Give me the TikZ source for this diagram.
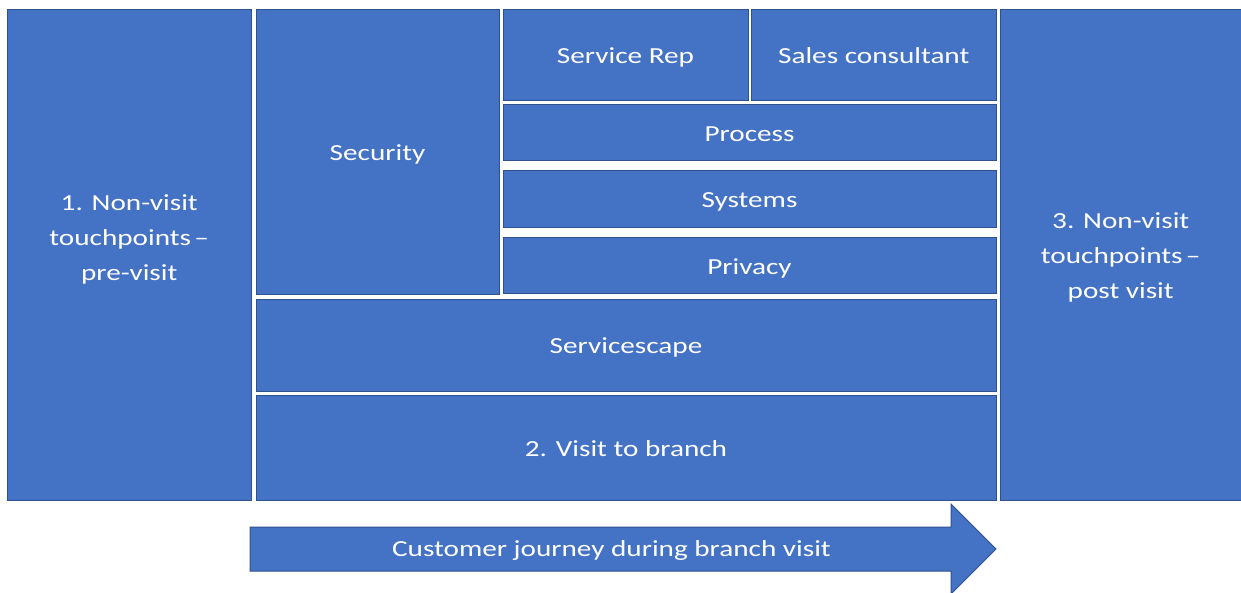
\documentclass[tikz,border=0pt]{standalone}
\usepackage{fontspec}
\setmainfont{Carlito}[FakeStretch=1.27]
\definecolor{boxfill}{HTML}{4472C4}
\definecolor{boxline}{HTML}{2F528F}
\begin{document}
\begin{tikzpicture}[x=1pt,y=-1pt,
  panel/.style={draw=boxline, fill=boxfill, line width=1pt},
  label/.style={text=white, align=center, inner sep=0pt, anchor=base,
    font=\fontsize{23}{35}\selectfont}]
\useasboundingbox (0,0) rectangle (1241,593);
% panel: x1, y1, x2, y2, name, baseline of last text line, text
\newcommand{\panelbox}[7]{%
  \draw[panel] (#1,#2) rectangle (#3,#4);
  \node[label] (#5) at ({(#1+#3)/2},#6) {#7};}
\panelbox{7.5}{9.5}{251}{500}{pre}{280.5}{1. Non-visit\\touchpoints\hspace{0.15em}–\\pre-visit}
\panelbox{256}{9.5}{499}{295}{sec}{160.5}{Security}
\panelbox{503}{9.5}{748}{101}{rep}{63.5}{Service Rep}
\panelbox{751.5}{9.5}{996}{101}{sales}{63.5}{Sales consultant}
\panelbox{503}{104.5}{996}{161}{proc}{141.5}{Process}
\panelbox{503}{170.5}{996}{228}{sys}{207.5}{Systems}
\panelbox{503}{237.5}{996}{294}{priv}{274.5}{Privacy}
\panelbox{256}{299.5}{996}{391}{scape}{353.5}{Servicescape}
\panelbox{256}{395.5}{996}{500}{visit}{456.5}{2. Visit to branch}
\panelbox{1000}{9.5}{1241.5}{500}{post}{298.5}{3. Non-visit\\touchpoints\hspace{0.15em}–\\post visit}
% journey arrow
\draw[panel] (250,527) -- (951,527) -- (951,504) -- (996,549)
  -- (951,594) -- (951,571) -- (250,571) -- cycle;
\node[label] (journey) at (611.5,556.5) {Customer journey during branch visit};
\end{tikzpicture}
\end{document}
